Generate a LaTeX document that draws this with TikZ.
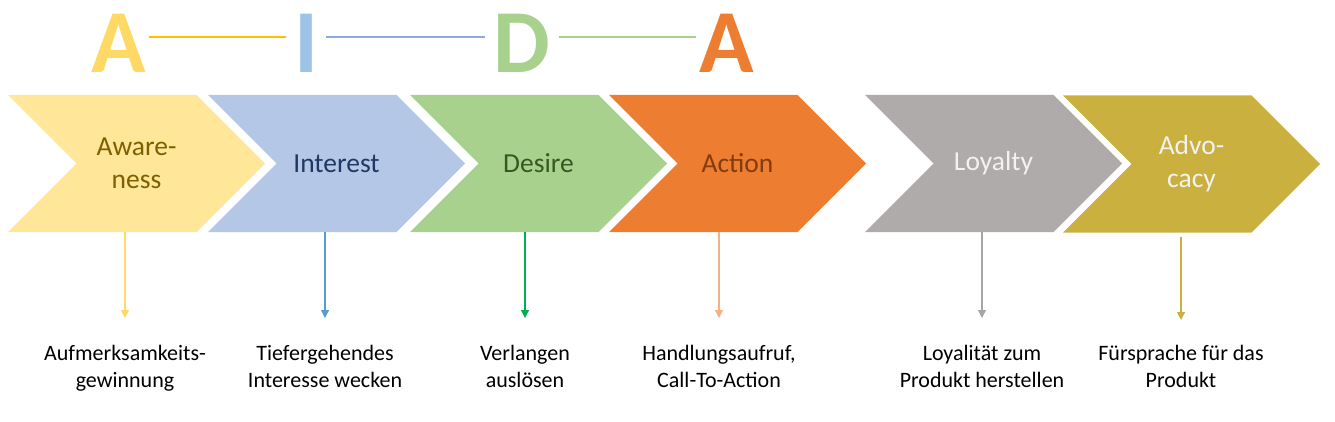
\documentclass[tikz,border=0pt]{standalone}
\usepackage{fontspec}
\setmainfont{Carlito}
\usetikzlibrary{shapes.symbols,arrows.meta}
\definecolor{awareFill}{HTML}{FFE699}
\definecolor{interestFill}{HTML}{B4C7E7}
\definecolor{desireFill}{HTML}{A9D18E}
\definecolor{actionFill}{HTML}{ED7D31}
\definecolor{loyaltyFill}{HTML}{AFABAB}
\definecolor{advocacyFill}{HTML}{C9B03F}
\definecolor{awareText}{HTML}{7F6000}
\definecolor{interestText}{HTML}{203864}
\definecolor{desireText}{HTML}{385723}
\definecolor{actionText}{HTML}{843C0C}
\definecolor{lightText}{HTML}{F2F2F2}
\definecolor{letterA}{HTML}{FFD966}
\definecolor{letterI}{HTML}{9DC3E6}
\definecolor{letterD}{HTML}{A9D18E}
\definecolor{letterAct}{HTML}{ED7D31}
\definecolor{aidaYellowLine}{HTML}{FFC000}
\definecolor{aidaBlueLine}{HTML}{8FAADC}
\definecolor{aidaGreenLine}{HTML}{A9D18E}
\definecolor{arrAware}{HTML}{FFD966}
\definecolor{arrInterest}{HTML}{5B9BD5}
\definecolor{arrDesire}{HTML}{00B050}
\definecolor{arrAction}{HTML}{F4B183}
\definecolor{arrLoyalty}{HTML}{A5A5A5}
\definecolor{arrAdvocacy}{HTML}{C9B03F}
\begin{document}
\begin{tikzpicture}[x=1pt,y=-1pt,
  chev/.style={signal, signal to=east, signal from=west, draw=none,
    minimum width=257pt, minimum height=137pt, inner sep=0pt, align=center,
    font=\fontsize{27.5}{33}\selectfont},
  letter/.style={inner sep=0pt, anchor=base, font=\fontsize{90}{90}\selectfont\bfseries},
  desc/.style={anchor=north, inner sep=0pt, align=center, font=\fontsize{22}{27}\selectfont},
  arr/.style={-{Triangle[length=8pt,width=8pt]}, line width=1.2pt, shorten >=27pt},
  letterlink/.style={line width=2pt, shorten <=3pt, shorten >=8pt}]
% AIDA funnel with loyalty and advocacy
\useasboundingbox (0,0) rectangle (1335,422);
\node[letter, text=letterA] (a1) at (118.5,73) {A};
\node[letter, text=letterI] (i) at (306,73) {I};
\node[letter, text=letterD] (d) at (522,73) {D};
\node[letter, text=letterAct] (a2) at (726.5,73) {A};
\draw[letterlink, color=aidaYellowLine] ([yshift=7pt]a1.east) -- ([yshift=7pt]i.west);
\draw[letterlink, color=aidaBlueLine, shorten <=8pt] ([yshift=7pt]i.east) -- ([yshift=7pt]d.west);
\draw[letterlink, color=aidaGreenLine, shorten <=8pt, shorten >=3pt] ([yshift=7pt]d.east) -- ([yshift=7pt]a2.west);
\node[chev, fill=awareFill, text=awareText] (aware) at (136.5,163.5) {Aware-\\ness};
\node[chev, fill=interestFill, text=interestText] (interest) at (336.5,163.5) {Interest};
\node[chev, fill=desireFill, text=desireText] (desire) at (538.5,163.5) {Desire};
\node[chev, fill=actionFill, text=actionText] (action) at (737.5,163.5) {Action};
\node[chev, fill=loyaltyFill, text=lightText] (loyalty) at (993.5,163.5) {Loyalty};
\node[chev, fill=advocacyFill, text=lightText] (advocacy) at (1191.5,164) {Advo-\\cacy};
\node[desc] (aware-txt) at (125,345) {Aufmerksamkeits-\\gewinnung};
\node[desc] (interest-txt) at (325,345) {Tiefergehendes\\Interesse wecken};
\node[desc] (desire-txt) at (525,345) {Verlangen\\auslösen};
\node[desc] (action-txt) at (719,345) {Handlungsaufruf,\\Call-To-Action};
\node[desc] (loyalty-txt) at (982,345) {Loyalität zum\\Produkt herstellen};
\node[desc] (advocacy-txt) at (1181,345) {Fürsprache für das\\Produkt};
\draw[arr, color=arrAware] (aware-txt |- aware.south) -- (aware-txt.north);
\draw[arr, color=arrInterest] (interest-txt |- interest.south) -- (interest-txt.north);
\draw[arr, color=arrDesire] (desire-txt |- desire.south) -- (desire-txt.north);
\draw[arr, color=arrAction] (action-txt |- action.south) -- (action-txt.north);
\draw[arr, color=arrLoyalty] (loyalty-txt |- loyalty.south) -- (loyalty-txt.north);
\draw[arr, color=arrAdvocacy, shorten <=4pt, shorten >=25pt] (advocacy-txt |- advocacy.south) -- (advocacy-txt.north);
\end{tikzpicture}
\end{document}
